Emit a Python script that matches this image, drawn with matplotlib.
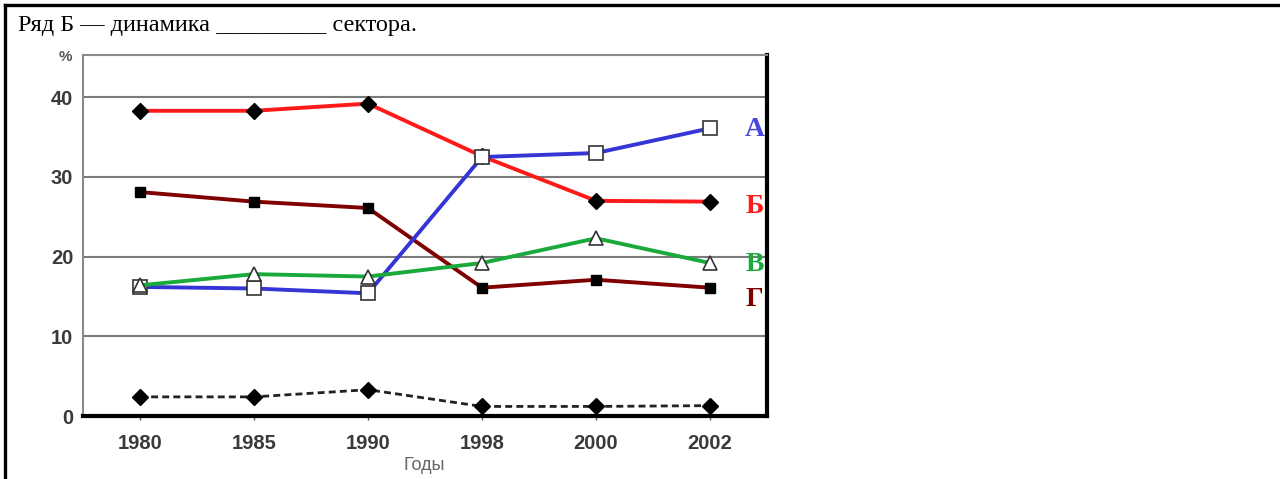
import matplotlib
matplotlib.use("Agg")
import matplotlib.pyplot as plt
from matplotlib.lines import Line2D

years = ["1980", "1985", "1990", "1998", "2000", "2002"]
series_A = [16.2, 16.0, 15.4, 32.5, 33.0, 36.1]
series_B = [38.3, 38.3, 39.2, 32.6, 27.0, 26.9]
series_V = [16.4, 17.8, 17.5, 19.2, 22.3, 19.2]
series_G = [28.1, 26.9, 26.1, 16.1, 17.1, 16.1]
series_other = [2.4, 2.4, 3.3, 1.2, 1.2, 1.3]
yticks = [0, 10, 20, 30, 40]
labels = ["А", "Б", "В", "Г"]
title_text = "Ряд Б — динамика _________ сектора."

fig = plt.figure(figsize=(12.8, 4.79), dpi=100)

# outer cell border
fig.add_artist(Line2D([5/1280, 1.0], [1 - 5/479, 1 - 5/479], transform=fig.transFigure,
                      color="black", lw=2.4))
fig.add_artist(Line2D([5/1280, 5/1280], [0, 1 - 5/479], transform=fig.transFigure,
                      color="black", lw=2.4))

fig.text(18/1280, 1 - 31/479, title_text, fontsize=17.5, family="Liberation Serif",
         color="black", va="baseline", ha="left")

ax = fig.add_axes([83/1280, 1 - 416/479, (767 - 83)/1280, (416 - 55)/479])
x = list(range(len(years)))

ax.plot(x, series_other, color="#222222", lw=2.0, ls=(0, (2.5, 1.5)), marker="D",
        ms=8, mfc="black", mec="black", zorder=3)
ax.plot(x, series_G, color="#800000", lw=2.8, marker="s", ms=7.5, mfc="black",
        mec="black", zorder=4)
ax.plot(x, series_B, color="#ff1a1a", lw=2.8, marker="D", ms=8, mfc="black",
        mec="black", zorder=5)
ax.plot(x, series_A, color="#3535d5", lw=2.8, marker="s", ms=9.5, mfc="white",
        mec="#333333", mew=1.2, zorder=6)
ax.plot(x, series_V, color="#1aaa3c", lw=2.8, marker="^", ms=10.5, mfc="white",
        mec="#333333", mew=1.2, zorder=7)

ax.set_xlim(-0.5, 5.5)
ax.set_ylim(0, 45.3)
ax.set_yticks(yticks)
ax.set_xticks(x)
ax.set_xticklabels(years)
ax.grid(axis="y", color="#7a7a7a", lw=1.5, zorder=1)
ax.set_axisbelow(True)

for s in ("left", "top"):
    ax.spines[s].set_color("#8a8a8a")
    ax.spines[s].set_linewidth(1.5)
for s in ("right", "bottom"):
    ax.spines[s].set_color("black")
    ax.spines[s].set_linewidth(3)

ax.tick_params(axis="y", length=0, pad=7)
ax.tick_params(axis="x", length=3, width=1, color="#555555", pad=10)
for t in ax.get_yticklabels() + ax.get_xticklabels():
    t.set_fontweight("bold")
    t.set_fontsize(14.5)
    t.set_color("#3a3a3a")
    t.set_family("Liberation Sans")

fig.text(65/1280, 1 - 57/479, "%", fontsize=11, fontweight="bold", color="#555555",
         ha="center", va="center", family="Liberation Sans")
fig.text(424/1280, 1 - 466/479, "Годы", fontsize=13, color="#666666",
         ha="center", va="center", family="Liberation Sans")

label_cols = ["#4848dc", "#ff1a1a", "#1aaa3c", "#800000"]
label_y = [35.9, 26.3, 19.0, 14.6]
for lab, yv, c in zip(labels, label_y, label_cols):
    ax.text(5.39, yv, lab, color=c, fontsize=20, fontweight="bold",
            family="Liberation Serif", ha="center", va="center", zorder=8,
            clip_on=False)

fig.savefig("out.png", dpi=100)
